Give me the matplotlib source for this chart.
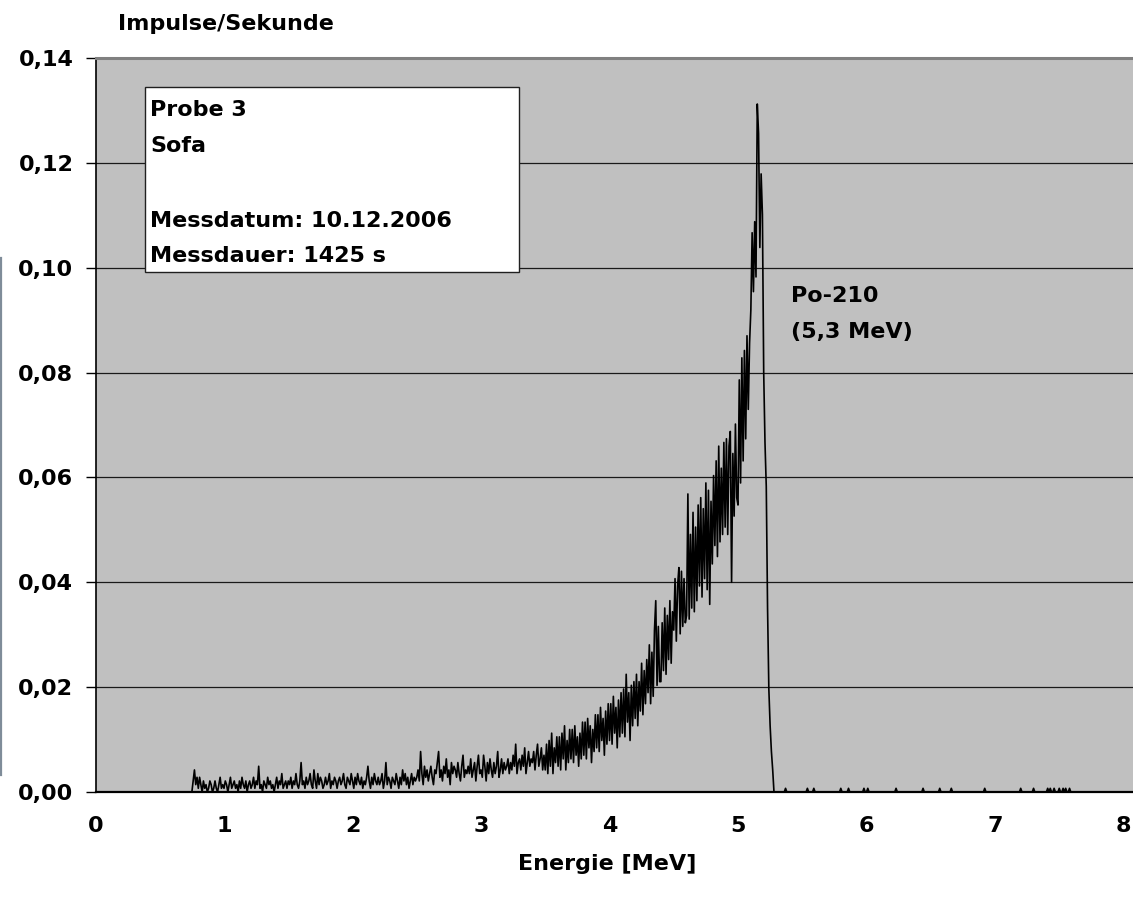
import numpy as np
import matplotlib
matplotlib.use("Agg")
import matplotlib.pyplot as plt
from matplotlib.patches import Rectangle
from matplotlib.lines import Line2D

# ---------------- data ----------------
measurement_time_s = 1425
channel_width_mev = 0.01
n_channels = 801            # 0.00 ... 8.00 MeV
first_channel_mev = 0.75

# counts per channel from 0.75 MeV to 5.29 MeV (rows of 0.1 MeV)
counts_075 = [0, 3, 6, 2, 4]
counts_rows = [
    [1, 4, 2, 0, 3, 1, 2, 0, 1, 3],          # 0.80
    [2, 0, 1, 3, 1, 0, 2, 4, 1, 2],          # 0.90
    [1, 3, 2, 0, 2, 4, 1, 2, 3, 1],          # 1.00
    [2, 0, 3, 1, 4, 2, 1, 3, 0, 2],          # 1.10
    [3, 1, 2, 4, 1, 3, 2, 7, 1, 2],          # 1.20
    [0, 3, 2, 1, 4, 2, 3, 1, 2, 0],          # 1.30
    [2, 4, 1, 3, 2, 5, 1, 2, 3, 1],          # 1.40
    [3, 2, 4, 1, 3, 2, 5, 2, 1, 3],          # 1.50
    [8, 2, 3, 1, 4, 2, 3, 5, 2, 1],          # 1.60
    [6, 3, 1, 5, 2, 4, 3, 1, 2, 4],          # 1.70
    [2, 3, 5, 1, 3, 2, 4, 3, 1, 3],          # 1.80
    [4, 2, 3, 5, 2, 1, 4, 3, 2, 5],          # 1.90
    [3, 1, 4, 2, 5, 3, 2, 4, 1, 3],          # 2.00
    [2, 4, 7, 3, 1, 4, 2, 5, 3, 2],          # 2.10
    [4, 2, 3, 5, 1, 3, 8, 2, 4, 3],          # 2.20
    [1, 4, 3, 2, 5, 3, 1, 4, 2, 6],          # 2.30
    [3, 5, 2, 4, 1, 3, 5, 2, 4, 3],          # 2.40
    [4, 6, 3, 11, 5, 2, 7, 4, 6, 3],         # 2.50
    [5, 7, 4, 2, 6, 5, 8, 11, 4, 6],         # 2.60
    [3, 7, 5, 9, 4, 6, 2, 8, 5, 7],          # 2.70
    [6, 4, 8, 5, 3, 7, 10, 4, 6, 5],         # 2.80
    [7, 5, 9, 4, 6, 8, 3, 7, 10, 5],         # 2.90
    [6, 4, 10, 7, 3, 8, 5, 9, 6, 4],         # 3.00
    [8, 5, 7, 11, 4, 6, 9, 5, 8, 6],         # 3.10
    [7, 9, 5, 8, 6, 10, 7, 13, 5, 8],        # 3.20
    [9, 6, 10, 7, 12, 5, 8, 11, 7, 9],       # 3.30
    [8, 11, 6, 10, 13, 7, 9, 12, 6, 10],     # 3.40
    [6, 13, 5, 14, 7, 16, 5, 12, 8, 15],     # 3.50
    [7, 15, 6, 16, 9, 18, 6, 14, 8, 17],     # 3.60
    [9, 17, 8, 18, 10, 15, 7, 16, 9, 19],    # 3.70
    [10, 19, 9, 20, 12, 18, 8, 17, 11, 21],  # 3.80
    [12, 21, 11, 23, 14, 20, 10, 22, 13, 24],# 3.90
    [14, 24, 13, 26, 16, 23, 12, 25, 15, 27],# 4.00
    [16, 28, 15, 32, 19, 27, 14, 29, 18, 30],# 4.10
    [20, 32, 18, 30, 22, 35, 21, 33, 24, 36],# 4.20
    [27, 40, 24, 38, 26, 44, 52, 29, 45, 30],# 4.30
    [30, 46, 33, 50, 32, 48, 36, 52, 35, 49],# 4.40
    [44, 58, 41, 56, 61, 43, 60, 45, 58, 46],# 4.50
    [48, 81, 47, 70, 50, 76, 49, 72, 52, 78],# 4.60
    [56, 80, 53, 77, 58, 84, 55, 82, 51, 79],# 4.70
    [62, 86, 67, 90, 64, 94, 68, 88, 70, 95],# 4.80
    [72, 96, 70, 94, 98, 57, 92, 75, 100, 80],   # 4.90
    [78, 112, 84, 118, 90, 120, 96, 124, 104, 122],  # 5.00
    [131, 152, 136, 155, 140, 187, 179, 148, 168, 157],  # 5.10
    [114, 95, 83, 50, 28, 18, 11, 6, 0, 0],  # 5.20
]

# isolated single counts above the Po-210 peak (MeV)
tail_event_mev = [5.37, 5.54, 5.59, 5.80, 5.86, 5.98, 6.01, 6.23, 6.44, 6.57,
                  6.66, 6.92, 7.20, 7.30, 7.41, 7.43, 7.46, 7.50, 7.53, 7.55, 7.58]

x_ticks = [0, 1, 2, 3, 4, 5, 6, 7, 8]
y_ticks = [0.00, 0.02, 0.04, 0.06, 0.08, 0.10, 0.12, 0.14]
y_tick_labels = ["0,00", "0,02", "0,04", "0,06", "0,08", "0,10", "0,12", "0,14"]

info_lines = ["Probe 3", "Sofa", "Messdatum: 10.12.2006", "Messdauer: 1425 s"]
peak_label = ["Po-210", "(5,3 MeV)"]

# ---------------- build spectrum ----------------
energy = np.arange(n_channels) * channel_width_mev
spectrum = np.zeros(n_channels)
main_counts = list(counts_075) + [c for row in counts_rows for c in row]
i0 = int(round(first_channel_mev / channel_width_mev))
spectrum[i0:i0 + len(main_counts)] = main_counts
for e in tail_event_mev:
    spectrum[int(round(e / channel_width_mev))] += 1
rate = spectrum / measurement_time_s

# ---------------- figure ----------------
W, H = 1133, 907
FS = 16
plt.rcParams['font.family'] = ['DejaVu Sans']
fig = plt.figure(figsize=(W / 100, H / 100), dpi=100)
fig.patch.set_facecolor('white')

ax_left_px, ax_right_px = 95.5, 1133
ax_top_px, ax_bot_px = 58, 792
ax = fig.add_axes([ax_left_px / W, 1 - ax_bot_px / H,
                   (ax_right_px - ax_left_px) / W, (ax_bot_px - ax_top_px) / H])
ax.set_facecolor('#C0C0C0')

px_per_mev = 128.5
ax.set_xlim(0, (ax_right_px - ax_left_px) / px_per_mev)
ax.set_ylim(0, 0.14)

for yv in y_ticks[1:-1]:
    ax.axhline(yv, color='#1a1a1a', lw=0.9, zorder=1)

ax.plot(energy, rate, color='black', lw=1.2, zorder=3)

ax.spines['top'].set_color('#808080')
ax.spines['top'].set_linewidth(2.2)
ax.spines['right'].set_visible(False)
ax.spines['left'].set_color('black')
ax.spines['left'].set_linewidth(1.2)
ax.spines['bottom'].set_color('black')
ax.spines['bottom'].set_linewidth(1.6)
ax.spines['bottom'].set_zorder(4)

ax.set_xticks(x_ticks)
ax.set_xticklabels([str(v) for v in x_ticks])
ax.set_yticks(y_ticks)
ax.set_yticklabels(y_tick_labels)
ax.tick_params(axis='x', length=0, pad=17, labelsize=FS)
ax.tick_params(axis='y', length=7, width=1.0, direction='out', pad=9, labelsize=FS)
for lab in ax.get_xticklabels() + ax.get_yticklabels():
    lab.set_fontweight('bold')

# axis titles
fig.text(118 / W, 1 - 30 / H, "Impulse/Sekunde", fontsize=FS, fontweight='bold',
         ha='left', va='baseline')
fig.text(607 / W, 1 - 870 / H, "Energie [MeV]", fontsize=FS, fontweight='bold',
         ha='center', va='baseline')

# info box
box_x0, box_y0, box_x1, box_y1 = 145, 87, 519, 272
fig.patches.append(Rectangle((box_x0 / W, 1 - box_y1 / H), (box_x1 - box_x0) / W,
                             (box_y1 - box_y0) / H, transform=fig.transFigure,
                             facecolor='white', edgecolor='#202020', lw=1.0, zorder=5))
baselines = [116, 152, 227, 262]
for txt, b in zip(info_lines, baselines):
    fig.text(150 / W, 1 - b / H, txt, fontsize=FS, fontweight='bold',
             ha='left', va='baseline', zorder=6)

# peak label
for txt, b in zip(peak_label, [302, 338]):
    fig.text(791 / W, 1 - b / H, txt, fontsize=FS, fontweight='bold',
             ha='left', va='baseline')

# thin artifact line at the left edge
fig.lines.append(Line2D([1.2 / W, 1.2 / W], [1 - 258 / H, 1 - 775 / H],
                        transform=fig.transFigure, color='#7f8c99', lw=1.6))

fig.savefig("out.png", dpi=100)
